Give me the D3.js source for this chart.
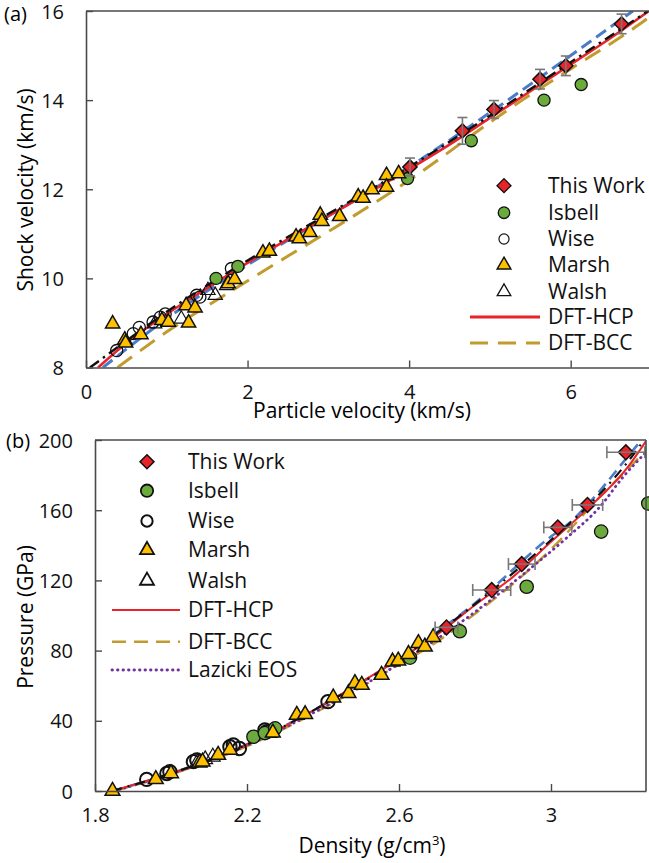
<!DOCTYPE html>
<html>
<head>
<meta charset="utf-8">
<script src="https://cdn.jsdelivr.net/npm/d3@7"></script>
<style>
  body { margin: 0; background: #fff; }
  svg { display: block; font-family: "Open Sans", sans-serif; }
</style>
</head>
<body>
<div id="chart"></div>
<script>
// ---------- panel (a): shock velocity vs particle velocity ----------
const aThisWork = [[4.01, 12.50], [4.66, 13.31], [5.05, 13.79], [5.62, 14.47], [5.94, 14.77], [6.63, 15.71]]
const aThisWorkErr = [0.2, 0.3, 0.2, 0.22, 0.22, 0.22]
const aIsbell = [[1.61, 10.0], [1.88, 10.27], [3.98, 12.24], [4.77, 13.09], [5.67, 14.0], [6.13, 14.35]]
const aWise = [[0.38, 8.38], [0.585, 8.76], [0.66, 8.9], [0.83, 9.02], [0.92, 9.13], [0.98, 9.2],
  [1.37, 9.62], [1.41, 9.58], [1.80, 10.22]]
const aMarsh = [[0.33, 8.98], [0.48, 8.62], [0.49, 8.55], [0.68, 8.74], [0.94, 9.06], [1.02, 9.02],
  [1.24, 9.39], [1.35, 9.34], [1.27, 9.0], [1.76, 9.88], [1.84, 9.98], [2.19, 10.57], [2.27, 10.61],
  [2.6, 10.93], [2.64, 10.89], [2.77, 11.03], [2.9, 11.42], [2.92, 11.28], [3.14, 11.39], [3.37, 11.83],
  [3.43, 11.8], [3.54, 11.99], [3.72, 12.31], [3.72, 12.05], [3.87, 12.35]]
const aWalsh = [[0.85, 8.98], [1.18, 9.09], [1.51, 9.73], [1.6, 9.62], [1.74, 9.84]]
const aHCP = [[0.15, 8], [0.5, 8.55], [1, 9.2], [1.5, 9.78], [2, 10.35], [2.5, 10.88], [3, 11.4],
  [3.5, 11.92], [4, 12.45], [4.5, 13.0], [5, 13.6], [5.5, 14.2], [6, 14.8], [6.5, 15.4], [7, 16.04]]
const aBCC = [[0.39, 8], [1, 8.8], [1.8, 9.72], [2.5, 10.5], [3, 11.05], [4, 12.2], [5, 13.5],
  [5.4, 14.0], [6, 14.7], [6.81, 15.65], [7, 15.9]]
const aFit = [[0.21, 8], [1, 9.1], [2, 10.3], [3, 11.4], [4, 12.5], [5, 13.72], [6, 15.0], [6.77, 16]]
const aHug = [[0.05, 8], [0.5, 8.6], [1, 9.25], [2, 10.4], [3, 11.45], [4, 12.5], [5, 13.65], [6, 14.85], [7, 16.05]]
const aXTicks = [0, 2, 4, 6]
const aYTicks = [8, 10, 12, 14, 16]

// ---------- panel (b): pressure vs density ----------
const bThisWork = [[2.725, 93.2], [2.844, 114.5], [2.923, 129.3], [3.018, 150.2], [3.096, 163.0], [3.197, 193.0]]
const bThisWorkErr = [0.03, 0.05, 0.035, 0.037, 0.04, 0.05]
const bIsbell = [[2.217, 30.9], [2.247, 33.0], [2.274, 35.7], [2.629, 76.0], [2.76, 91.0], [2.936, 116.4],
  [3.132, 147.8], [3.256, 163.8]]
const bWise = [[1.936, 6.6], [1.989, 10.0], [1.997, 11.0], [2.059, 16.7], [2.068, 17.7], [2.155, 25.2],
  [2.164, 26.2], [2.18, 24.2], [2.247, 34.8], [2.252, 33.8], [2.413, 50.9]]
const bMarsh = [[1.846, 0], [1.96, 6.7], [2.0, 10.0], [2.075, 16.1], [2.083, 16.7], [2.124, 20.5],
  [2.155, 23.4], [2.268, 33.2], [2.331, 43.3], [2.353, 43.7], [2.427, 53.2], [2.467, 55.7], [2.484, 61.4],
  [2.502, 60.4], [2.554, 66.1], [2.583, 73.7], [2.598, 74.2], [2.625, 78.0], [2.651, 84.2], [2.668, 82.2],
  [2.69, 87.6]]
const bWalsh = [[2.07, 16.5], [2.09, 18.0], [2.11, 19.5], [2.26, 33.0]]
const bHCP = [[1.845, 0], [1.9, 3.5], [2.0, 10], [2.1, 17.5], [2.2, 26.5], [2.3, 37], [2.4, 49], [2.5, 62],
  [2.6, 75], [2.7, 89], [2.8, 106], [2.9, 122], [3.0, 142], [3.1, 161.5], [3.2, 184], [3.252, 200]]
const bBCC = [[1.85, 0], [2.0, 9.5], [2.2, 25.5], [2.4, 47], [2.6, 72], [2.7, 85], [2.8, 101], [2.9, 118],
  [3.024, 143], [3.129, 167.7], [3.2, 183], [3.25, 194]]
const bLazicki = [[1.85, 0], [2.0, 9.8], [2.2, 26], [2.4, 47.5], [2.6, 72.5], [2.8, 102], [2.962, 129.7],
  [3.04, 144], [3.129, 162], [3.19, 179], [3.25, 193]]
const bFit = [[1.845, 0], [2.0, 10], [2.2, 26.5], [2.4, 49], [2.6, 75.5], [2.8, 107], [3.0, 145],
  [3.05, 153], [3.1, 164], [3.2, 190], [3.238, 200]]
const bHug = [[1.845, 0], [2.0, 10], [2.2, 26.5], [2.4, 49], [2.6, 75], [2.8, 106.5], [3.0, 143],
  [3.1, 163], [3.2, 187], [3.245, 200]]
const bXTicks = [1.8, 2.2, 2.6, 3.0]
const bYTicks = [0, 40, 80, 120, 160, 200]

const legendNames = ["This Work", "Isbell", "Wise", "Marsh", "Walsh", "DFT-HCP", "DFT-BCC", "Lazicki EOS"]

const colors = {
  red: "#e8232a", green: "#6bab3d", yellow: "#ffc000", gold: "#c29b2f",
  blue: "#4a7cc9", purple: "#7030a0", axis: "#4a4a4a", err: "#777"
}

const svg = d3.select("#chart").append("svg")
  .attr("width", 649)
  .attr("height", 863)

const diamond = d3.symbol().type(d3.symbolSquare)
const circle = d3.symbol().type(d3.symbolCircle)
const triangle = d3.symbol().type(d3.symbolTriangle)

function drawPanel(cfg) {
  const x = d3.scaleLinear().domain(cfg.xDomain).range(cfg.xRange)
  const y = d3.scaleLinear().domain(cfg.yDomain).range(cfg.yRange)
  const g = svg.append("g")

  g.append("clipPath").attr("id", cfg.id + "clip")
    .append("rect")
    .attr("x", cfg.xRange[0]).attr("y", cfg.yRange[1])
    .attr("width", cfg.clipW).attr("height", cfg.yRange[0] - cfg.yRange[1])

  const line = d3.line().x(d => x(d[0])).y(d => y(d[1])).curve(d3.curveMonotoneX)
  const lines = g.append("g").attr("clip-path", `url(#${cfg.id}clip)`)
  cfg.curves.forEach(c => {
    lines.append("path")
      .attr("d", line(c.data))
      .attr("fill", "none")
      .attr("stroke", c.color)
      .attr("stroke-width", c.width)
      .attr("stroke-dasharray", c.dash)
      .attr("stroke-linecap", c.cap || "butt")
  })

  // markers
  const m = cfg.marker
  const pts = g.append("g")
  const put = (data, sym, size, fill, stroke, sw, rot) => {
    pts.selectAll(null).data(data).enter().append("path")
      .attr("d", sym.size(size)())
      .attr("transform", d => `translate(${x(d[0])},${y(d[1])})` + (rot ? " rotate(45)" : ""))
      .attr("fill", fill).attr("stroke", stroke).attr("stroke-width", sw)
  }
  put(cfg.wise, circle, m.circle, "none", "#111", m.wiseStroke)
  put(cfg.walsh, triangle, m.tri, "none", "#111", 1.2)
  put(cfg.isbell, circle, m.circle, colors.green, "#111", 1.3)
  put(cfg.marsh, triangle, m.tri, colors.yellow, "#111", 1.5)

  // error bars for this work
  const eb = g.append("g").attr("stroke", colors.err).attr("stroke-width", 1.6)
  cfg.thisWork.forEach((d, i) => {
    const e = cfg.err[i]
    if (cfg.errAxis === "y") {
      const cx = x(d[0]), y0 = y(d[1] - e), y1 = y(d[1] + e)
      eb.append("line").attr("x1", cx).attr("x2", cx).attr("y1", y0).attr("y2", y1)
      eb.append("line").attr("x1", cx - 5).attr("x2", cx + 5).attr("y1", y0).attr("y2", y0)
      eb.append("line").attr("x1", cx - 5).attr("x2", cx + 5).attr("y1", y1).attr("y2", y1)
    } else {
      const cy = y(d[1]), x0 = x(d[0] - e), x1 = x(d[0] + e)
      eb.append("line").attr("y1", cy).attr("y2", cy).attr("x1", x0).attr("x2", x1)
      eb.append("line").attr("y1", cy - 6).attr("y2", cy + 6).attr("x1", x0).attr("x2", x0)
      eb.append("line").attr("y1", cy - 6).attr("y2", cy + 6).attr("x1", x1).attr("x2", x1)
    }
  })
  put(cfg.thisWork, diamond, m.diamond, colors.red, "#111", 1.5, true)

  // axes, ticks inward
  const xAxis = g.append("g")
    .attr("transform", `translate(0,${cfg.yRange[0]})`)
    .call(d3.axisBottom(x).tickValues(cfg.xTicks).tickSize(-7).tickPadding(17)
      .tickFormat(cfg.xFormat).tickSizeOuter(0))
  const yAxis = g.append("g")
    .attr("transform", `translate(${cfg.xRange[0]},0)`)
    .call(d3.axisLeft(y).tickValues(cfg.yTicks).tickSize(-7).tickPadding(22).tickSizeOuter(0))
  ;[xAxis, yAxis].forEach(a => {
    a.select(".domain").attr("stroke", colors.axis).attr("stroke-width", 1.6)
    a.selectAll(".tick line").attr("stroke", colors.axis).attr("stroke-width", 1.4)
    a.selectAll(".tick text").attr("fill", "#111").attr("font-size", 20)
      .attr("font-family", "Open Sans, sans-serif")
  })
  yAxis.selectAll(".tick text").attr("dy", "0.35em")
  xAxis.selectAll(".tick text").attr("dy", "0.71em")

  // frame lines
  g.append("line").attr("x1", cfg.xRange[0]).attr("x2", cfg.frameRight)
    .attr("y1", cfg.yRange[1]).attr("y2", cfg.yRange[1])
    .attr("stroke", colors.axis).attr("stroke-width", 1.6)
  if (cfg.rightBorder) {
    g.append("line").attr("x1", cfg.frameRight).attr("x2", cfg.frameRight)
      .attr("y1", cfg.yRange[1]).attr("y2", cfg.yRange[0])
      .attr("stroke", colors.axis).attr("stroke-width", 1.6)
  }

  // labels
  g.append("text").attr("x", cfg.tagX).attr("y", cfg.tagY).attr("font-size", 20).text(cfg.tag)
  g.append("text").attr("x", cfg.xTitleX).attr("y", cfg.xTitleY).attr("text-anchor", "middle")
    .attr("font-size", cfg.titleSize).text(cfg.xTitle)
  const yt = g.append("text")
    .attr("transform", `translate(${cfg.yTitleX},${cfg.yTitleY}) rotate(-90)`)
    .attr("text-anchor", "middle").attr("font-size", cfg.titleSize)
  cfg.yTitle(yt)

  // legend
  const lg = g.append("g")
  cfg.legendRows.forEach((r, i) => {
    const ly = cfg.legY[i]
    if (r.sym) {
      lg.append("path")
        .attr("d", r.sym.size(r.size)())
        .attr("transform", `translate(${cfg.legSymX},${ly})` + (r.rot ? " rotate(45)" : ""))
        .attr("fill", r.fill).attr("stroke", "#111").attr("stroke-width", r.sw)
    } else {
      lg.append("line").attr("x1", cfg.legLine[0]).attr("x2", cfg.legLine[1])
        .attr("y1", ly).attr("y2", ly)
        .attr("stroke", r.color).attr("stroke-width", r.width)
        .attr("stroke-dasharray", r.dash).attr("stroke-linecap", r.cap || "butt")
    }
    lg.append("text").attr("x", cfg.legTextX).attr("y", ly).attr("dy", "0.35em")
      .attr("font-size", 21).attr("fill", "#111").text(legendNames[i])
  })
}

drawPanel({
  id: "a", tag: "(a)", tagX: 4, tagY: 21,
  xDomain: [0, 7], xRange: [86, 86 + 7 * 80.78],
  yDomain: [8, 16], yRange: [367.5, 11],
  clipW: 649 - 86, frameRight: 649, rightBorder: false,
  xTicks: aXTicks, yTicks: aYTicks, xFormat: d3.format("d"),
  thisWork: aThisWork, err: aThisWorkErr, errAxis: "y",
  isbell: aIsbell, wise: aWise, marsh: aMarsh, walsh: aWalsh,
  marker: { diamond: 100, circle: 115, tri: 88, wiseStroke: 1.3 },
  curves: [
    { data: aBCC, color: colors.gold, width: 3, dash: "18,10" },
    { data: aFit, color: colors.blue, width: 3, dash: "12,6" },
    { data: aHCP, color: colors.red, width: 2.6, dash: null },
    { data: aHug, color: "#111", width: 2.4, dash: "11,5,2.5,5" }
  ],
  xTitle: "Particle velocity (km/s)", xTitleX: 362, xTitleY: 418, titleSize: 21,
  yTitleX: 33, yTitleY: 190,
  yTitle: t => t.text("Shock velocity (km/s)"),
  legSymX: 504, legTextX: 548, legLine: [470, 540],
  legY: [185.7, 212.7, 239, 265, 291.7, 317, 343],
  legendRows: [
    { sym: diamond, size: 98, fill: colors.red, sw: 1.3, rot: true },
    { sym: circle, size: 105, fill: colors.green, sw: 1.3 },
    { sym: circle, size: 80, fill: "none", sw: 1.2 },
    { sym: triangle, size: 80, fill: colors.yellow, sw: 1.5 },
    { sym: triangle, size: 80, fill: "none", sw: 1.3 },
    { color: colors.red, width: 3, dash: null },
    { color: colors.gold, width: 3, dash: "18,10" }
  ]
})

drawPanel({
  id: "b", tag: "(b)", tagX: 6, tagY: 448,
  xDomain: [1.8, 3.25], xRange: [95, 95 + 1.45 * 380],
  yDomain: [0, 200], yRange: [791, 440],
  clipW: 646 - 95, frameRight: 646, rightBorder: true,
  xTicks: bXTicks, yTicks: bYTicks, xFormat: d => d === 3 ? "3" : d3.format(".1f")(d),
  thisWork: bThisWork, err: bThisWorkErr, errAxis: "x",
  isbell: bIsbell, wise: bWise, marsh: bMarsh, walsh: bWalsh,
  marker: { diamond: 110, circle: 140, tri: 95, wiseStroke: 2 },
  curves: [
    { data: bBCC, color: colors.gold, width: 2.4, dash: "14,8" },
    { data: bLazicki, color: colors.purple, width: 2.8, dash: "0.5,5", cap: "round" },
    { data: bFit, color: colors.blue, width: 2.6, dash: "11,6" },
    { data: bHCP, color: colors.red, width: 2, dash: null },
    { data: bHug, color: "#111", width: 2.2, dash: "10,6,2,6" }
  ],
  xTitle: "", xTitleX: 372, xTitleY: 852, titleSize: 21,
  yTitleX: 33, yTitleY: 617,
  yTitle: t => t.text("Pressure  (GPa)"),
  legSymX: 147, legTextX: 188, legLine: [112, 180],
  legY: [461.7, 490.7, 521, 550, 580.7, 610, 641.7, 670],
  legendRows: [
    { sym: diamond, size: 98, fill: colors.red, sw: 1.5, rot: true },
    { sym: circle, size: 120, fill: colors.green, sw: 1.8 },
    { sym: circle, size: 100, fill: "none", sw: 2 },
    { sym: triangle, size: 85, fill: colors.yellow, sw: 1.8 },
    { sym: triangle, size: 85, fill: "none", sw: 1.8 },
    { color: colors.red, width: 2, dash: null },
    { color: colors.gold, width: 2.4, dash: "14,8" },
    { color: colors.purple, width: 2.8, dash: "0.5,5", cap: "round" }
  ]
})

// density title with superscript
svg.append("text").attr("x", 372).attr("y", 853).attr("text-anchor", "middle").attr("font-size", 21)
  .call(t => {
    t.append("tspan").text("Density (g/cm")
    t.append("tspan").attr("font-size", 13).attr("dy", -8).text("3")
    t.append("tspan").attr("dy", 8).text(")")
  })
</script>
</body>
</html>
